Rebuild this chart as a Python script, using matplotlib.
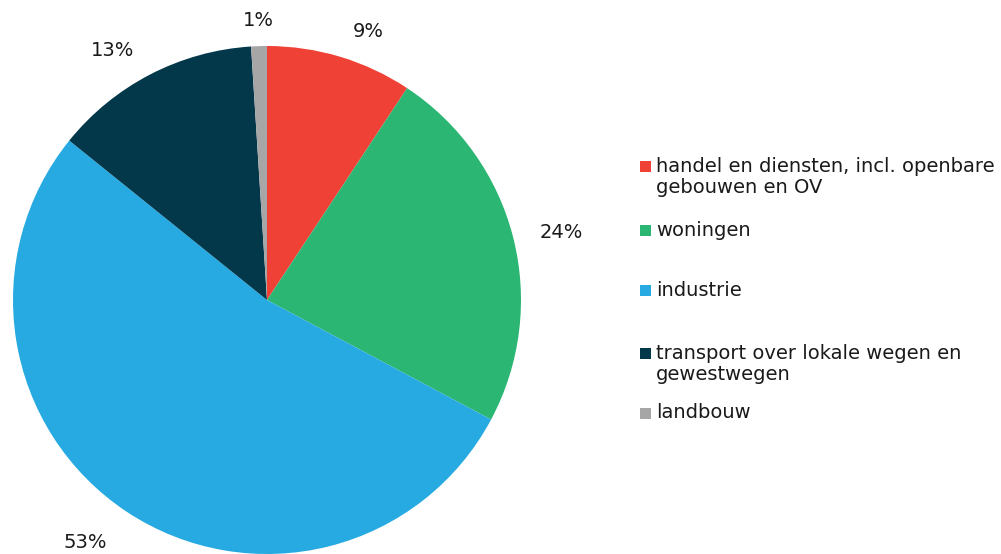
import numpy as np
import matplotlib
matplotlib.use("Agg")
import matplotlib.pyplot as plt
from matplotlib.patches import Rectangle

# shares per sector
sectors = ["handel en diensten, incl. openbare\ngebouwen en OV", "woningen", "industrie",
           "transport over lokale wegen en\ngewestwegen", "landbouw"]
shares = [9.3, 23.5, 53.0, 13.2, 1.0]
pct_labels = ["9%", "24%", "53%", "13%", "1%"]
colors = ["#EF4136", "#2BB673", "#27AAE1", "#02384A", "#A6A6A6"]

plt.rcParams['font.family'] = ['Verdana', 'DejaVu Sans']

W, H = 1001, 554
fig = plt.figure(figsize=(W / 100, H / 100), dpi=100)

# pie centre (267,300) px, radius 254 px
cx, cy, R = 267, 300, 254
ax = fig.add_axes([(cx - R) / W, (H - cy - R) / H, 2 * R / W, 2 * R / H])
wedges, _ = ax.pie(shares, colors=colors, startangle=90, counterclock=False,
                   radius=1, wedgeprops=dict(linewidth=0))
ax.set_xlim(-1, 1)
ax.set_ylim(-1, 1)
ax.set_aspect('equal')
ax.axis('off')

# percentage labels outside the pie, corner nearest the pie anchored
for w, lab in zip(wedges, pct_labels):
    ang = np.deg2rad((w.theta1 + w.theta2) / 2)
    c, s = np.cos(ang), np.sin(ang)
    d = 1.08 if s > 0 else 1.1
    x, y = d * c, d * s
    if x > 0.05:
        ha, x = 'left', x + 0.025
    elif x < -0.05:
        ha, x = 'right', x - 0.025
    else:
        ha = 'center'
    if abs(s) < 0.4:
        va = 'center'
    elif s > 0:
        va = 'baseline'
    else:
        va = 'top'
    ax.text(x, y, lab, ha=ha, va=va, fontsize=14, color="#1a1a1a", clip_on=False)

# legend, drawn by hand to get Excel's uneven spacing
leg_y = [177, 230, 291, 364, 413]
for name, c, y in zip(sectors, colors, leg_y):
    nl = name.count("\n") + 1
    top = y - (nl - 1) * 11
    fig.patches.append(Rectangle((640 / W, 1 - (top + 5.5) / H), 11 / W, 11 / H,
                                 transform=fig.transFigure, color=c, lw=0))
    fig.text(656 / W, 1 - y / H, name, ha='left', va='center', fontsize=14,
             color="#1a1a1a", linespacing=1.1)

fig.savefig("out.png", dpi=100)
